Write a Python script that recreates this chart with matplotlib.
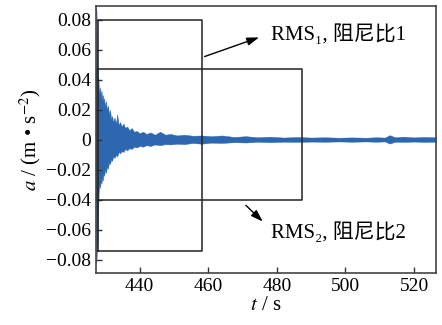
import numpy as np
import matplotlib.pyplot as plt

plt.rcParams['font.family'] = ['Liberation Serif', 'DejaVu Serif', 'Noto Sans CJK SC']
plt.rcParams['mathtext.fontset'] = 'stix'
plt.rcParams['axes.unicode_minus'] = True

# envelope of the acceleration record
t_env = [427.3, 427.45, 427.6, 427.75, 427.9, 428.1, 428.3, 428.5, 428.7, 428.9,
         429.1, 429.3, 429.5, 429.7, 429.9, 430.2, 430.5, 430.8, 431.1, 431.4,
         431.7, 432.0, 432.3, 432.7, 433.1, 433.5, 433.9, 434.3, 434.8, 435.3,
         435.8, 436.4, 437.0, 437.7, 438.4, 439.2, 440.0, 441.0, 442.0, 443.2,
         444.5, 446.0, 447.5, 449.0, 451.0, 453.0, 455.5, 458.0, 461.0, 464.0,
         467.5, 471.0, 474.5, 478.0, 482.0, 486.0, 490.0, 494.0, 498.0, 502.0,
         506.0, 509.0, 511.5, 512.9, 514.5, 517.0, 520.0, 523.0, 526.4]
a_upper = [0.088, 0.086, 0.062, 0.048, 0.046, 0.036, 0.031, 0.035, 0.029, 0.033,
           0.027, 0.030, 0.025, 0.028, 0.022, 0.026, 0.020, 0.023, 0.017, 0.020,
           0.014, 0.016, 0.012, 0.015, 0.011, 0.017, 0.010, 0.012, 0.009, 0.011,
           0.008, 0.009, 0.0065, 0.008, 0.0055, 0.006, 0.0045, 0.0055, 0.004, 0.005,
           0.0035, 0.0055, 0.0035, 0.004, 0.003, 0.0035, 0.0028, 0.003, 0.0025, 0.003,
           0.002, 0.0025, 0.0018, 0.0022, 0.0016, 0.002, 0.0016, 0.0018, 0.0015, 0.0017,
           0.0015, 0.0018, 0.0016, 0.0032, 0.0018, 0.0022, 0.0017, 0.002, 0.0018]
a_lower = [-0.083, -0.079, -0.072, -0.068, -0.050, -0.034, -0.030, -0.032, -0.027, -0.029,
           -0.025, -0.027, -0.022, -0.024, -0.020, -0.022, -0.018, -0.019, -0.015, -0.016,
           -0.013, -0.014, -0.011, -0.012, -0.010, -0.011, -0.008, -0.009, -0.0075, -0.008,
           -0.006, -0.007, -0.0055, -0.006, -0.0045, -0.005, -0.004, -0.0045, -0.0035, -0.004,
           -0.003, -0.0035, -0.0028, -0.003, -0.0025, -0.0028, -0.002, -0.0025, -0.0018, -0.002,
           -0.0015, -0.0017, -0.0012, -0.0015, -0.0012, -0.0013, -0.0011, -0.0012, -0.001, -0.0012,
           -0.001, -0.0012, -0.001, -0.0024, -0.0012, -0.0013, -0.0011, -0.0013, -0.0012]

# windows used for the two RMS / damping estimates: (t0, t1, a_low, a_high)
box1 = (427.9, 458.2, -0.0737, 0.080)
box2 = (427.3, 487.4, -0.0403, 0.0475)

xticks = [440, 460, 480, 500, 520]
yticks = [-0.08, -0.06, -0.04, -0.02, 0, 0.02, 0.04, 0.06, 0.08]
ytick_labels = ['\u22120.08', '\u22120.06', '\u22120.04', '\u22120.02', '0',
                '0.02', '0.04', '0.06', '0.08']

fig = plt.figure(figsize=(4.42, 3.25), dpi=100)
ax = fig.add_axes([0.2172, 0.16, 0.7692, 0.8215])

blue = '#2d67b0'
ax.fill_between(t_env, a_lower, a_upper, color=blue, lw=0.3, edgecolor=blue)

for t0, t1, lo, hi in [box1, box2]:
    ax.plot([t0, t1, t1, t0, t0], [lo, lo, hi, hi, lo], color='#222222', lw=1.1)

ax.annotate('', xy=(475.6, 0.069), xytext=(458.2, 0.055),
            arrowprops=dict(arrowstyle='-|>,head_length=0.6,head_width=0.2',
                            color='black', lw=1.0, mutation_scale=12))
ax.text(478.2, 0.070, 'RMS\u2081, 阻尼比1', fontsize=15, va='center', ha='left')
ax.annotate('', xy=(476.5, -0.0557), xytext=(470.4, -0.0423),
            arrowprops=dict(arrowstyle='-|>,head_length=0.6,head_width=0.2',
                            color='black', lw=1.0, mutation_scale=12))
ax.text(478.2, -0.0617, 'RMS\u2082, 阻尼比2', fontsize=15, va='center', ha='left')

ax.set_xlim(427.3, 526.4)
ax.set_ylim(-0.0887, 0.0893)
ax.set_xticks(xticks)
ax.set_xticklabels([str(x) for x in xticks])
ax.set_yticks(yticks)
ax.set_yticklabels(ytick_labels)
ax.tick_params(direction='in', length=4, width=1, labelsize=14, color='#333333')

for s in ax.spines.values():
    s.set_color('#444444')
    s.set_linewidth(1.2)

ax.set_xlabel(r'$t$ / s', fontsize=15, labelpad=1)
ax.set_ylabel('$a$ / (m \u2022 s$^{-2}$)', fontsize=15, labelpad=2)

fig.savefig('out.png', dpi=100)
